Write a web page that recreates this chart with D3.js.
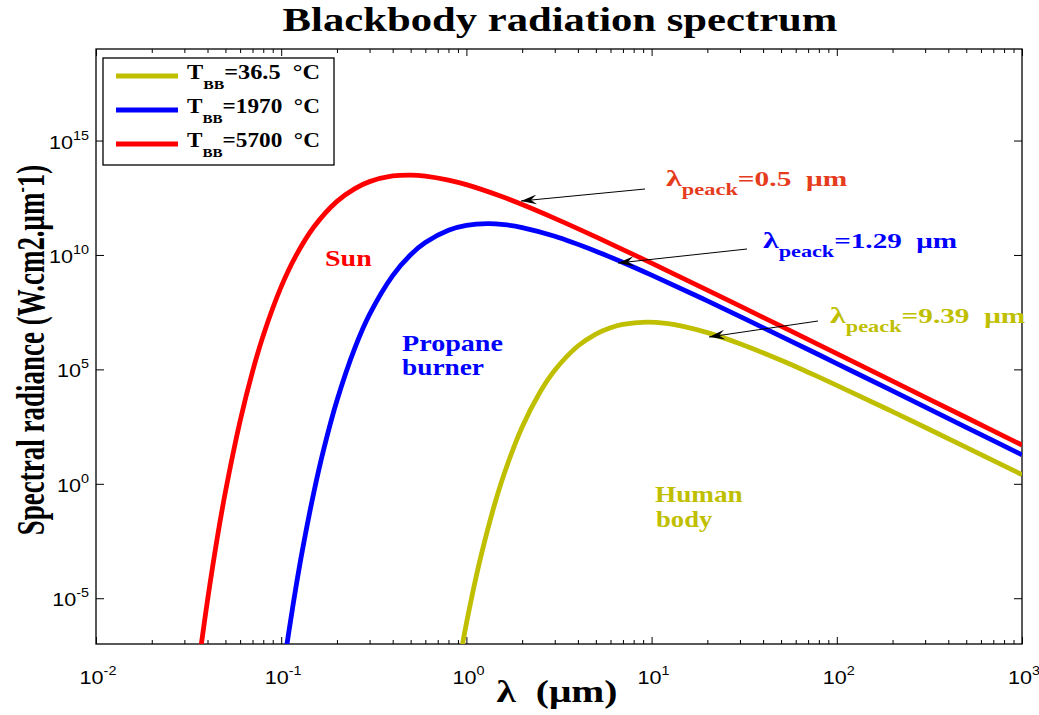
<!DOCTYPE html>
<html>
<head>
<meta charset="utf-8">
<script src="https://cdn.jsdelivr.net/npm/d3@7"></script>
<style>
  body { margin: 0; background: #fff; }
  svg { display: block; }
</style>
</head>
<body>
<div id="chart"></div>
<script>
// values (wavelength in um, radiance on the log axis)
let sunWavelength = [0.037, 0.04, 0.045, 0.05, 0.06, 0.07, 0.08, 0.1, 0.12, 0.15, 0.2, 0.25, 0.3, 0.4, 0.5, 0.6, 0.8, 1, 1.5, 2, 3, 5, 10, 20, 50, 100, 200, 500, 1000];
let sunRadiance = [9.1e-8, 8.1e-6, 3.65e-3, 0.454, 560, 8.05e4, 3.05e6, 4.11e8, 9.16e9, 1.66e11, 2.19e12, 7.96e12, 1.6e13, 2.83e13, 3.1e13, 2.81e13, 1.88e13, 1.18e13, 3.94e12, 1.6e12, 3.98e11, 6.15e10, 4.38e9, 2.91e8, 7.73e6, 4.89e5, 3.08e4, 789, 49.4];

let burnerWavelength = [0.107, 0.11, 0.12, 0.13, 0.15, 0.17, 0.2, 0.25, 0.3, 0.4, 0.5, 0.6, 0.8, 1, 1.3, 1.6, 2, 3, 5, 7, 10, 20, 50, 100, 200, 500, 1000];
let burnerRadiance = [7.8e-8, 3.49e-7, 2.92e-5, 1.19e-3, 0.421, 34.4, 4.39e3, 8.77e5, 2.54e7, 1.26e9, 1.02e10, 3.48e10, 1.2e11, 1.95e11, 2.32e11, 2.1e11, 1.57e11, 6.55e10, 1.46e10, 4.72e9, 1.32e9, 9.86e7, 2.79e6, 1.8e5, 1.14e4, 295, 18.5];

let humanWavelength = [0.95, 1, 1.1, 1.2, 1.4, 1.6, 2, 2.5, 3, 4, 5, 6, 7, 9.4, 12, 15, 20, 30, 50, 70, 100, 200, 500, 1000];
let humanRadiance = [8.8e-8, 7.87e-7, 3.34e-5, 7.29e-4, 0.0853, 2.77, 303, 1.03e4, 9.2e4, 1.05e6, 3.51e6, 6.64e6, 9.29e6, 1.17e7, 1.02e7, 7.41e6, 4.05e6, 1.32e6, 2.49e5, 7.52e4, 2.01e4, 1426, 39.2, 2.51];

let temperatures = ['36.5', '1970', '5700'];
let peaks = ['9.39', '1.29', '0.5'];
let xTickValues = [1e-2, 1e-1, 1, 10, 100, 1000];
let xTickExp = ['-2', '-1', '0', '1', '2', '3'];
let yTickValues = [1e-5, 1, 1e5, 1e10, 1e15];
let yTickExp = ['-5', '0', '5', '10', '15'];

let colors = ['#bfbf00', '#0000ff', '#ff0000'];
let serif = '"Liberation Serif", "Times New Roman", serif';
let sans = '"Liberation Sans", Arial, sans-serif';

let W = 1039, H = 715;
let plot = {left: 96, right: 1022, top: 49, bottom: 644};

let svg = d3.select('#chart')
  .append('svg')
  .attr('width', W)
  .attr('height', H);

let xScale = d3.scaleLog()
  .domain([1e-2, 1e3])
  .range([plot.left, plot.right]);
let yScale = d3.scaleLog()
  .domain([1e-7, 1e19])
  .range([plot.bottom, plot.top]);

// text helper: parts are tspans, the whole thing stretched to a width
let addText = (parent, x, y, parts, o) => {
  let t = parent.append('text')
    .attr('font-family', o.font || serif)
    .attr('font-weight', o.weight || 'bold')
    .attr('fill', o.color || '#000')
    .attr('text-anchor', o.anchor || 'start');
  parts.forEach(p => {
    t.append('tspan')
      .attr('font-size', p.size)
      .attr('dy', p.dy || 0)
      .text(p.text);
  });
  let w = t.node().getBBox().width;
  let sx = o.width ? o.width / w : (o.sx || 1);
  t.attr('transform', 'translate(' + x + ',' + y + ') scale(' + sx + ',1)' + (o.rotate ? ' rotate(' + o.rotate + ')' : ''));
  return t;
};

// minor decade ticks
let minor = [];
for (let e = -2; e < 3; e++) {
  for (let m = 2; m < 10; m++) minor.push(m * Math.pow(10, e));
}

// tick marks drawn with d3 axes, pointing inwards
svg.append('g')
  .attr('transform', 'translate(0,' + plot.bottom + ')')
  .call(d3.axisBottom(xScale).tickValues(minor).tickSize(-4).tickFormat(''));
svg.append('g')
  .attr('transform', 'translate(0,' + plot.bottom + ')')
  .call(d3.axisBottom(xScale).tickValues(xTickValues).tickSize(-7).tickFormat(''));
svg.append('g')
  .attr('transform', 'translate(0,' + plot.top + ')')
  .call(d3.axisTop(xScale).tickValues(minor).tickSize(-4).tickFormat(''));
svg.append('g')
  .attr('transform', 'translate(0,' + plot.top + ')')
  .call(d3.axisTop(xScale).tickValues(xTickValues).tickSize(-7).tickFormat(''));
svg.append('g')
  .attr('transform', 'translate(' + plot.left + ',0)')
  .call(d3.axisLeft(yScale).tickValues(yTickValues).tickSize(-8).tickFormat(''));
svg.append('g')
  .attr('transform', 'translate(' + plot.right + ',0)')
  .call(d3.axisRight(yScale).tickValues(yTickValues).tickSize(-8).tickFormat(''));
svg.selectAll('.domain').remove();
svg.selectAll('.tick line').attr('stroke', '#000').attr('stroke-width', 1);

svg.append('rect')
  .attr('x', plot.left)
  .attr('y', plot.top)
  .attr('width', plot.right - plot.left)
  .attr('height', plot.bottom - plot.top)
  .attr('fill', 'none')
  .attr('stroke', '#000')
  .attr('stroke-width', 1.3);

// tick labels
xTickValues.forEach((v, i) => {
  addText(svg, xScale(v) + 2, 684, [
    {text: '10', size: 18},
    {text: xTickExp[i], size: 12, dy: -9}
  ], {font: sans, weight: 'normal', anchor: 'middle', sx: 1.2});
});
yTickValues.forEach((v, i) => {
  addText(svg, 89, yScale(v) + 8, [
    {text: '10', size: 18},
    {text: yTickExp[i], size: 12, dy: -9}
  ], {font: sans, weight: 'normal', anchor: 'end', sx: 1.2});
});

// curves
svg.append('clipPath')
  .attr('id', 'clip')
  .append('rect')
  .attr('x', plot.left)
  .attr('y', plot.top)
  .attr('width', plot.right - plot.left)
  .attr('height', plot.bottom - plot.top);

let line = d3.line()
  .x(d => xScale(d[0]))
  .y(d => yScale(d[1]))
  .curve(d3.curveCatmullRom.alpha(0.5));

let series = [
  d3.zip(humanWavelength, humanRadiance),
  d3.zip(burnerWavelength, burnerRadiance),
  d3.zip(sunWavelength, sunRadiance)
];

svg.append('g')
  .attr('clip-path', 'url(#clip)')
  .selectAll('path')
  .data(series)
  .enter()
  .append('path')
  .attr('d', line)
  .attr('fill', 'none')
  .attr('stroke', (d, i) => colors[i])
  .attr('stroke-width', 4.8)
  .attr('stroke-linejoin', 'round');

// legend
let legend = svg.append('g');
legend.append('rect')
  .attr('x', 103)
  .attr('y', 58)
  .attr('width', 231)
  .attr('height', 107)
  .attr('fill', '#fff')
  .attr('stroke', '#000')
  .attr('stroke-width', 1.3);
temperatures.forEach((t, i) => {
  let cy = 76 + i * 34;
  legend.append('line')
    .attr('x1', 116).attr('x2', 178)
    .attr('y1', cy).attr('y2', cy)
    .attr('stroke', colors[i])
    .attr('stroke-width', 5);
  addText(legend, 187, cy + 3, [
    {text: 'T', size: 20},
    {text: 'BB', size: 13, dy: 10},
    {text: '=' + t + '\u00a0\u00a0\u00b0C', size: 20, dy: -10}
  ], {width: 133});
});

// arrows
svg.append('defs').append('marker')
  .attr('id', 'head')
  .attr('viewBox', '0 0 16 10')
  .attr('refX', 0)
  .attr('refY', 5)
  .attr('markerWidth', 16)
  .attr('markerHeight', 10)
  .attr('markerUnits', 'userSpaceOnUse')
  .attr('orient', 'auto')
  .append('path')
  .attr('d', 'M0,5 L16,0 L10,5 L16,10 Z')
  .attr('fill', '#000');

let arrows = [
  [818, 321, 709, 337],
  [747, 249, 618, 263],
  [645, 189, 521, 201]
];
arrows.forEach(a => {
  svg.append('line')
    .attr('x1', a[2]).attr('y1', a[3])
    .attr('x2', a[0]).attr('y2', a[1])
    .attr('stroke', '#000')
    .attr('stroke-width', 1)
    .attr('marker-start', 'url(#head)');
});

// peak annotations
let peakPos = [[830, 323, 196, '#bfbf00'], [763, 248, 195, '#0000ff'], [666, 186, 182, '#e63c1e']];
peaks.forEach((p, i) => {
  let pos = peakPos[i];
  addText(svg, pos[0], pos[1], [
    {text: '\u03bb', size: 23},
    {text: 'peack', size: 16, dy: 9},
    {text: '=' + p + '\u00a0\u00a0\u03bcm', size: 21, dy: -9}
  ], {width: pos[2], color: pos[3]});
});

// source labels
addText(svg, 325, 266, [{text: 'Sun', size: 23}], {width: 47, color: '#ff0000'});
addText(svg, 402, 351, [{text: 'Propane', size: 23}], {width: 101, color: '#0000ff'});
addText(svg, 402, 375, [{text: 'burner', size: 23}], {width: 82, color: '#0000ff'});
addText(svg, 655, 502, [{text: 'Human', size: 23}], {width: 88, color: '#bfbf00'});
addText(svg, 656, 527, [{text: 'body', size: 23}], {width: 57, color: '#bfbf00'});

// titles
addText(svg, 560, 31, [{text: 'Blackbody radiation spectrum', size: 33}], {anchor: 'middle', width: 555});
addText(svg, 557, 702, [{text: '\u03bb\u00a0\u00a0(\u03bcm)', size: 31}], {anchor: 'middle', width: 121});
addText(svg, 44, 350, [
  {text: 'Spectral radiance (W.cm2.\u03bcm', size: 27},
  {text: '-', size: 16, dy: -10},
  {text: '1)', size: 27, dy: 10}
], {anchor: 'middle', sx: 1.5, rotate: -90});
</script>
</body>
</html>
